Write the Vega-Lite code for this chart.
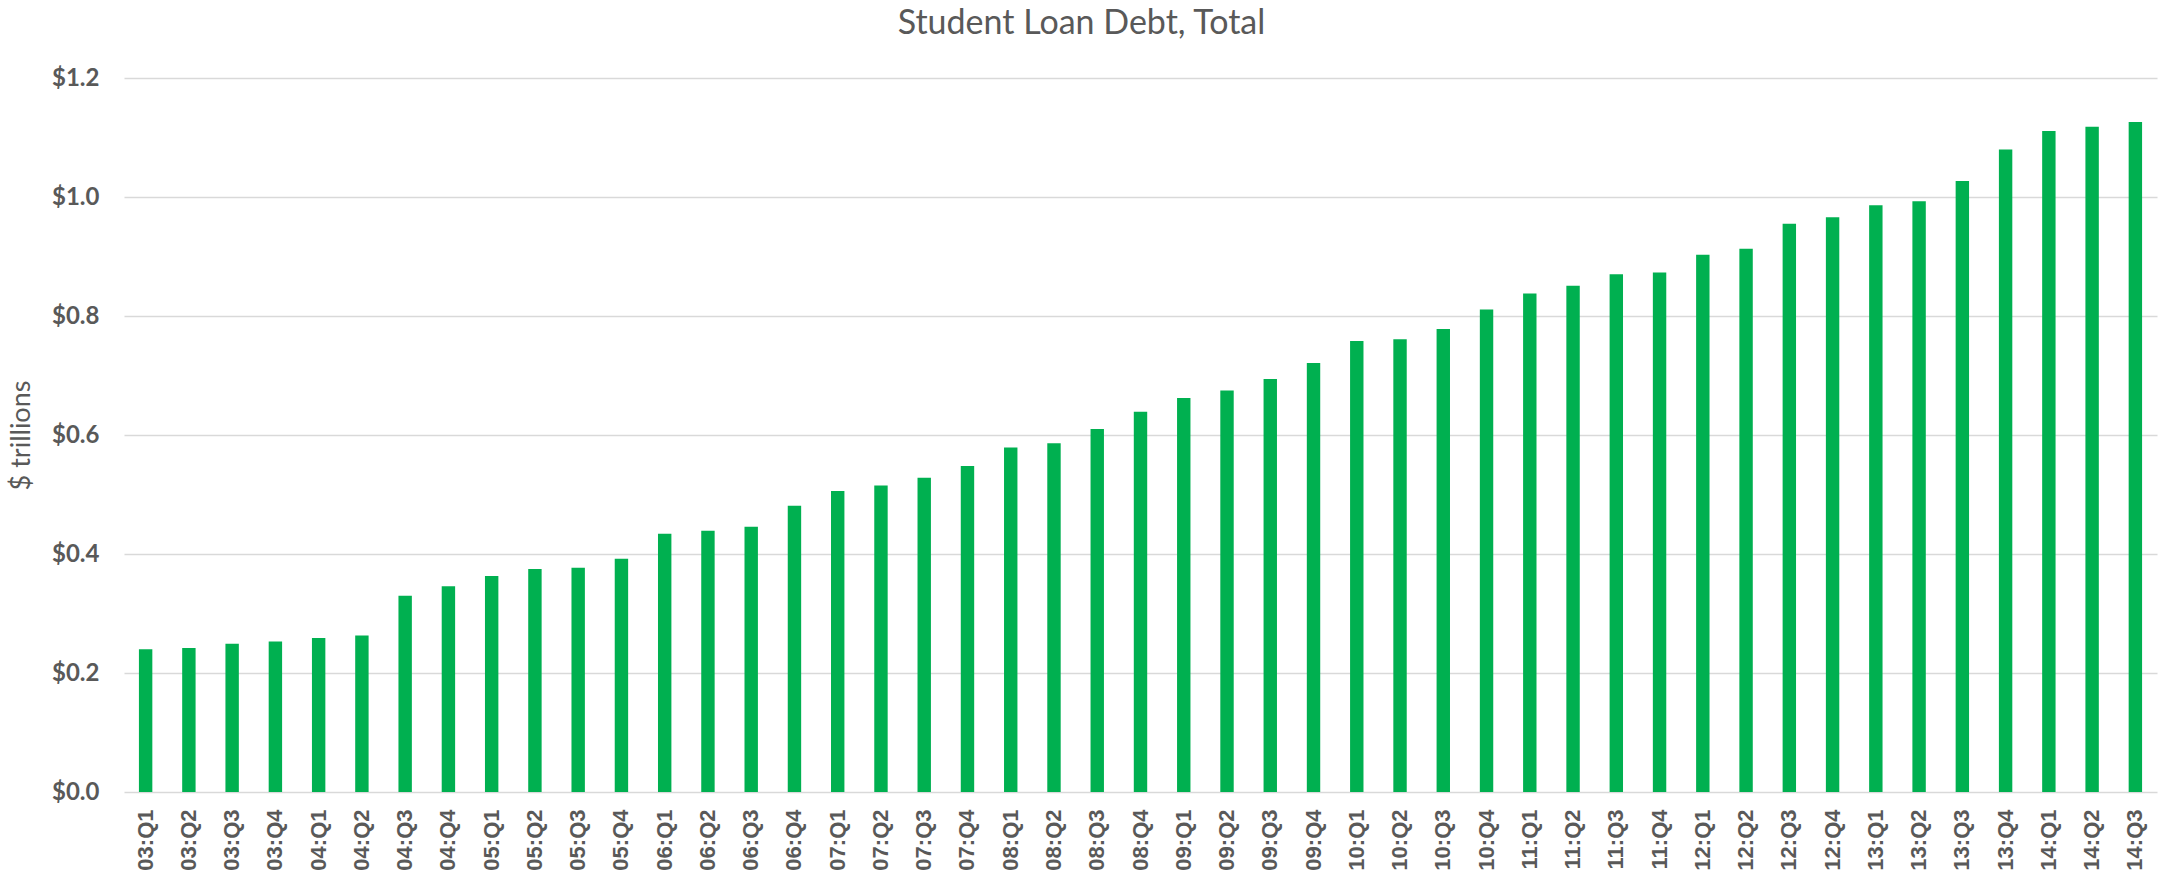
{
  "$schema": "https://vega.github.io/schema/vega-lite/v6.json",
  "width": 2033,
  "height": 714,
  "autosize": {"type": "none"},
  "padding": {"left": 124, "top": 78, "right": 6, "bottom": 87},
  "background": "white",
  "title": {
    "text": "Student Loan Debt, Total",
    "font": "Lato",
    "fontSize": 34,
    "fontWeight": "normal",
    "color": "#595959",
    "anchor": "middle",
    "dx": -59,
    "baseline": "alphabetic",
    "offset": -2
  },
  "data": {
    "values": [
      {"q": "03:Q1", "v": 0.240}, {"q": "03:Q2", "v": 0.242}, {"q": "03:Q3", "v": 0.249}, {"q": "03:Q4", "v": 0.253},
      {"q": "04:Q1", "v": 0.259}, {"q": "04:Q2", "v": 0.263}, {"q": "04:Q3", "v": 0.330}, {"q": "04:Q4", "v": 0.346},
      {"q": "05:Q1", "v": 0.363}, {"q": "05:Q2", "v": 0.375}, {"q": "05:Q3", "v": 0.377}, {"q": "05:Q4", "v": 0.392},
      {"q": "06:Q1", "v": 0.434}, {"q": "06:Q2", "v": 0.439}, {"q": "06:Q3", "v": 0.446}, {"q": "06:Q4", "v": 0.481},
      {"q": "07:Q1", "v": 0.506}, {"q": "07:Q2", "v": 0.515}, {"q": "07:Q3", "v": 0.528}, {"q": "07:Q4", "v": 0.548},
      {"q": "08:Q1", "v": 0.579}, {"q": "08:Q2", "v": 0.586}, {"q": "08:Q3", "v": 0.610}, {"q": "08:Q4", "v": 0.639},
      {"q": "09:Q1", "v": 0.662}, {"q": "09:Q2", "v": 0.675}, {"q": "09:Q3", "v": 0.694}, {"q": "09:Q4", "v": 0.721},
      {"q": "10:Q1", "v": 0.758}, {"q": "10:Q2", "v": 0.761}, {"q": "10:Q3", "v": 0.778}, {"q": "10:Q4", "v": 0.811},
      {"q": "11:Q1", "v": 0.838}, {"q": "11:Q2", "v": 0.851}, {"q": "11:Q3", "v": 0.870}, {"q": "11:Q4", "v": 0.873},
      {"q": "12:Q1", "v": 0.903}, {"q": "12:Q2", "v": 0.913}, {"q": "12:Q3", "v": 0.955}, {"q": "12:Q4", "v": 0.966},
      {"q": "13:Q1", "v": 0.986}, {"q": "13:Q2", "v": 0.993}, {"q": "13:Q3", "v": 1.027}, {"q": "13:Q4", "v": 1.080},
      {"q": "14:Q1", "v": 1.111}, {"q": "14:Q2", "v": 1.118}, {"q": "14:Q3", "v": 1.126}
    ]
  },
  "mark": {"type": "bar", "color": "#00b050"},
  "encoding": {
    "x": {
      "field": "q",
      "type": "ordinal",
      "sort": null,
      "scale": {"paddingInner": 0.69, "paddingOuter": 0.345},
      "axis": {
        "title": null,
        "labelAngle": 270,
        "labelAlign": "right",
        "labelBaseline": "middle",
        "labelFont": "Liberation Sans",
        "labelFontWeight": "bold",
        "labelFontSize": 22,
        "labelColor": "#595959",
        "labelPadding": 17,
        "ticks": false,
        "domain": false
      }
    },
    "y": {
      "field": "v",
      "type": "quantitative",
      "scale": {"domain": [0, 1.2], "nice": false},
      "axis": {
        "title": "$ trillions",
        "titleFont": "Lato",
        "titleFontSize": 27,
        "titleFontWeight": "normal",
        "titleColor": "#595959",
        "titlePadding": 16,
        "values": [0, 0.2, 0.4, 0.6, 0.8, 1.0, 1.2],
        "labelExpr": "'$' + format(datum.value, '.1f')",
        "labelFont": "Lato",
        "labelFontWeight": "bold",
        "labelFontSize": 24,
        "labelColor": "#595959",
        "labelPadding": 25,
        "ticks": false,
        "domain": false,
        "grid": true,
        "gridColor": "#d9d9d9",
        "gridWidth": 1.5
      }
    }
  },
  "config": {"view": {"stroke": null}}
}
